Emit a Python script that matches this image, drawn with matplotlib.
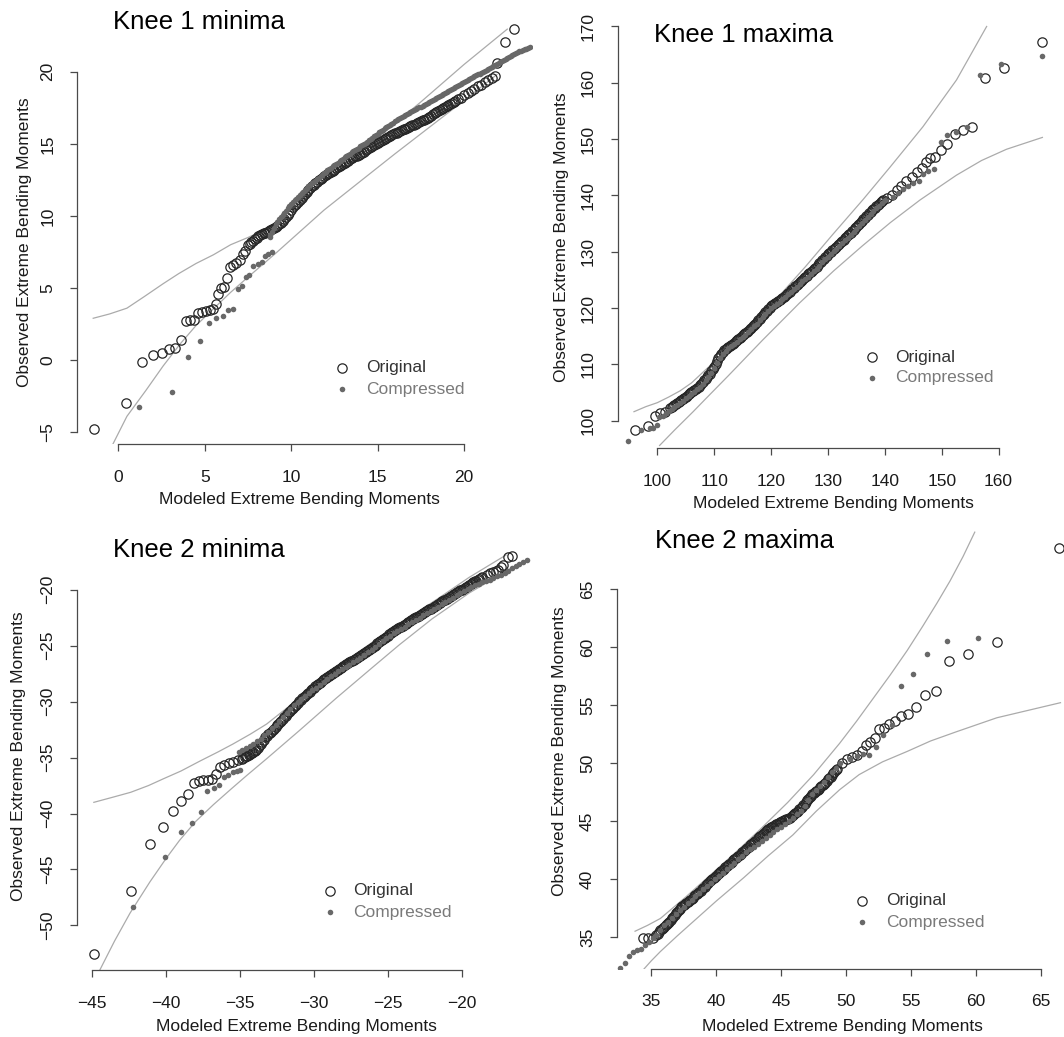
import matplotlib
matplotlib.use("Agg")
import matplotlib.pyplot as plt
from matplotlib.lines import Line2D

plt.rcParams['font.family'] = ['Liberation Sans', 'DejaVu Sans']

W, H = 1064, 1037

# ---------------- Knee 1 minima ----------------
k1min_orig_x = ([-1.42, 0.45, 1.35, 2.03, 2.52, 2.93, 3.3, 3.6, 3.92, 4.15, 4.38, 4.63, 4.85, 5.06, 5.28, 5.48, 5.63, 5.78,
                 5.97, 6.1, 6.3, 6.48, 6.64, 6.83, 7.02, 7.2, 7.32]
                + [7.5, 7.6, 7.7, 7.8, 7.9, 8.0, 8.1, 8.2, 8.3, 8.4, 8.5, 8.6, 8.7, 8.8, 8.9, 9.0, 9.1, 9.2, 9.3, 9.4,
                   9.5, 9.6, 9.7, 9.8, 9.9, 10.0, 10.1, 10.2, 10.3, 10.4, 10.5, 10.6, 10.7, 10.8, 10.9, 11.0, 11.1, 11.2,
                   11.3, 11.4, 11.5, 11.6, 11.7, 11.8, 11.9, 12.0, 12.1, 12.2, 12.3, 12.4, 12.5, 12.6, 12.7, 12.8, 12.9,
                   13.0, 13.1, 13.2, 13.3, 13.4, 13.5, 13.6, 13.7, 13.8, 13.9, 14.0, 14.1, 14.2, 14.3, 14.4, 14.5, 14.6,
                   14.7, 14.8, 14.9, 15.0, 15.1, 15.2, 15.3, 15.4, 15.5, 15.6, 15.7, 15.8, 15.9, 16.0, 16.1, 16.2, 16.3,
                   16.4, 16.5, 16.6, 16.7, 16.8, 16.9, 17.0, 17.1, 17.2, 17.3, 17.4, 17.5, 17.6, 17.7, 17.8, 17.9, 18.0,
                   18.1, 18.2, 18.3, 18.4, 18.5, 18.6, 18.7, 18.8, 18.9, 19.0, 19.1, 19.2, 19.3, 19.4, 19.5]
                + [19.65, 19.8, 20.0, 20.2, 20.4, 20.6, 20.8, 21.0, 21.2, 21.4, 21.6, 21.8, 21.9, 22.37, 22.88])
k1min_orig_y = ([-4.78, -3.0, -0.13, 0.32, 0.52, 0.75, 0.86, 1.39, 2.72, 2.76, 2.76, 3.25, 3.33, 3.43, 3.47, 3.52, 3.89, 4.56,
                 4.98, 5.09, 5.67, 6.48, 6.59, 6.71, 6.94, 7.36, 7.57]
                + [7.95, 8.05, 8.17, 8.28, 8.38, 8.5, 8.57, 8.65, 8.72, 8.8, 8.84, 8.9, 8.95, 9.0, 9.07, 9.15, 9.22, 9.3,
                   9.42, 9.53, 9.65, 9.78, 9.92, 10.05, 10.22, 10.42, 10.6, 10.73, 10.85, 10.98, 11.1, 11.24, 11.38, 11.52,
                   11.66, 11.8, 11.92, 12.04, 12.15, 12.27, 12.38, 12.48, 12.57, 12.66, 12.76, 12.85, 12.92, 12.98, 13.05,
                   13.12, 13.2, 13.29, 13.37, 13.45, 13.54, 13.62, 13.69, 13.76, 13.83, 13.91, 13.98, 14.05, 14.12, 14.18,
                   14.25, 14.32, 14.39, 14.46, 14.54, 14.61, 14.68, 14.76, 14.83, 14.9, 14.98, 15.05, 15.12, 15.2, 15.27,
                   15.35, 15.42, 15.48, 15.54, 15.6, 15.66, 15.72, 15.78, 15.83, 15.89, 15.94, 16.0, 16.05, 16.11, 16.16,
                   16.22, 16.27, 16.33, 16.38, 16.44, 16.49, 16.55, 16.62, 16.68, 16.75, 16.81, 16.88, 16.95, 17.03, 17.1,
                   17.18, 17.25, 17.33, 17.41, 17.49, 17.57, 17.65, 17.72, 17.78, 17.85, 17.92, 17.98]
                + [18.08, 18.2, 18.35, 18.52, 18.68, 18.82, 18.98, 19.1, 19.25, 19.4, 19.55, 19.7, 20.6, 22.08, 22.96])
k1min_comp_x = ([1.21, 3.09, 4.05, 4.73, 5.25, 5.65, 6.04, 6.36, 6.65, 6.91, 7.17, 7.37, 7.58, 7.81, 8.06, 8.29, 8.48, 8.68,
                 8.87, 8.75]
                + [8.8, 8.9, 9.0, 9.1, 9.2, 9.3, 9.4, 9.5, 9.6, 9.7, 9.8, 9.9, 10.0, 10.1, 10.2, 10.3, 10.4, 10.5, 10.6,
                   10.7, 10.8, 10.9, 11.0, 11.1, 11.2, 11.3, 11.4, 11.5, 11.6, 11.7, 11.8, 11.9, 12.0, 12.1, 12.2, 12.3,
                   12.4, 12.5, 12.6, 12.7, 12.8, 12.9, 13.0, 13.1, 13.2, 13.3, 13.4, 13.5, 13.6, 13.7, 13.8, 13.9, 14.0,
                   14.1, 14.2, 14.3, 14.4, 14.5, 14.6, 14.7, 14.8, 14.9, 15.0, 15.1, 15.2, 15.3, 15.4, 15.5, 15.6, 15.7,
                   15.8, 15.9, 16.0, 16.1, 16.2, 16.3, 16.4, 16.5, 16.6, 16.7, 16.8, 16.9, 17.0, 17.1, 17.2, 17.3, 17.4,
                   17.5, 17.6, 17.7, 17.8, 17.9, 18.0, 18.1, 18.2, 18.3, 18.4, 18.5, 18.6, 18.7, 18.8, 18.9, 19.0, 19.1,
                   19.2, 19.3, 19.4, 19.5, 19.6, 19.7, 19.8, 19.9, 20.0, 20.1, 20.2, 20.3, 20.4, 20.5, 20.6, 20.7, 20.8,
                   20.9, 21.0, 21.1, 21.2, 21.3, 21.4, 21.5, 21.6, 21.7, 21.8, 21.9, 22.0, 22.1, 22.2, 22.3, 22.4, 22.5,
                   22.6, 22.7, 22.8, 22.9, 23.0, 23.1, 23.2, 23.3, 23.4, 23.5, 23.6, 23.7, 23.8])
k1min_comp_y = ([-3.27, -2.19, 0.24, 1.32, 2.55, 2.92, 3.06, 3.47, 3.56, 4.91, 5.14, 5.78, 5.9, 6.53, 6.66, 6.78, 7.22, 7.36,
                 7.52, 8.55]
                + [8.65, 8.85, 9.15, 9.42, 9.6, 9.78, 9.92, 10.07, 10.22, 10.37, 10.52, 10.67, 10.82, 10.96, 11.08, 11.2,
                   11.33, 11.45, 11.57, 11.69, 11.81, 11.93, 12.05, 12.15, 12.25, 12.35, 12.45, 12.55, 12.65, 12.75, 12.85,
                   12.95, 13.05, 13.15, 13.24, 13.34, 13.44, 13.52, 13.61, 13.7, 13.78, 13.87, 13.96, 14.05, 14.13, 14.22,
                   14.31, 14.4, 14.48, 14.57, 14.65, 14.73, 14.82, 14.9, 14.98, 15.07, 15.15, 15.24, 15.34, 15.43, 15.52,
                   15.61, 15.7, 15.79, 15.89, 15.98, 16.06, 16.14, 16.22, 16.3, 16.38, 16.47, 16.55, 16.63, 16.72, 16.8,
                   16.86, 16.93, 17.0, 17.06, 17.13, 17.19, 17.25, 17.32, 17.38, 17.45, 17.52, 17.58, 17.65, 17.72, 17.78,
                   17.85, 17.92, 17.98, 18.05, 18.12, 18.19, 18.26, 18.33, 18.4, 18.47, 18.54, 18.61, 18.68, 18.75, 18.82,
                   18.89, 18.96, 19.03, 19.1, 19.17, 19.23, 19.3, 19.37, 19.43, 19.49, 19.55, 19.62, 19.68, 19.74, 19.81,
                   19.87, 19.93, 20.0, 20.07, 20.14, 20.21, 20.28, 20.35, 20.42, 20.49, 20.56, 20.63, 20.7, 20.77, 20.83,
                   20.9, 20.97, 21.03, 21.1, 21.17, 21.23, 21.3, 21.35, 21.4, 21.45, 21.5, 21.55, 21.6, 21.65, 21.7])
k1min_up_x = [-1.45, -0.5, 0.5, 1.5, 2.6, 3.5, 4.5, 5.5, 6.5, 7.5, 8.6, 9.5, 10.5, 12.5, 15.0, 17.5, 20.0, 22.5]
k1min_up_y = [2.9, 3.2, 3.6, 4.4, 5.3, 6.0, 6.7, 7.3, 8.0, 8.5, 9.1, 9.9, 10.9, 12.9, 15.4, 17.9, 20.5, 22.95]
k1min_lo_x = [-0.3, 0.5, 1.6, 2.6, 3.6, 4.5, 5.5, 6.5, 7.5, 9.1, 10.5, 11.9, 14.0, 16.0, 18.0, 20.0, 21.9]
k1min_lo_y = [-5.8, -3.9, -2.1, -0.4, 1.15, 2.4, 3.55, 4.7, 5.75, 7.4, 8.9, 10.4, 12.4, 14.3, 16.15, 18.0, 19.8]

# ---------------- Knee 1 maxima ----------------
k1max_orig_x = ([96.08, 98.42, 99.6, 100.47, 101.35, 102.2]
                + [102.5, 102.75, 103.0, 103.25, 103.5, 103.75, 104.0, 104.25, 104.5, 104.75, 105.0, 105.25, 105.5,
                   105.75, 106.0, 106.25, 106.5, 106.75, 107.0, 107.25, 107.5, 107.75, 108.0, 108.25, 108.5, 108.75,
                   109.0, 109.25, 109.5, 109.75, 110.0, 110.25, 110.5, 110.75, 111.0, 111.25, 111.5, 111.75, 112.0,
                   112.25, 112.5, 112.75, 113.0, 113.25, 113.5, 113.75, 114.0, 114.25, 114.5, 114.75, 115.0, 115.25,
                   115.5, 115.75, 116.0, 116.25, 116.5, 116.75, 117.0, 117.25, 117.5, 117.75, 118.0, 118.25, 118.5,
                   118.75, 119.0, 119.25, 119.5, 119.75, 120.0, 120.25, 120.5, 120.75, 121.0, 121.25, 121.5, 121.75,
                   122.0, 122.25, 122.5, 122.75, 123.0, 123.25, 123.5, 123.75, 124.0, 124.25, 124.5, 124.75, 125.0,
                   125.25, 125.5, 125.75, 126.0, 126.25, 126.5, 126.75, 127.0, 127.25, 127.5, 127.75, 128.0, 128.25,
                   128.5, 128.75, 129.0, 129.25, 129.5, 129.75, 130.0, 130.25, 130.5, 130.75, 131.0, 131.25, 131.5,
                   131.75, 132.0, 132.25, 132.5, 132.75, 133.0, 133.25, 133.5, 133.75, 134.0, 134.25, 134.5, 134.75,
                   135.0, 135.25, 135.5, 135.75, 136.0, 136.25, 136.5, 136.75, 137.0, 137.25, 137.5, 137.75, 138.0,
                   138.25, 138.5, 138.75, 139.0, 139.25, 139.5, 139.75]
                + [140.3, 141.2, 142.1, 142.9, 143.8, 144.7, 145.6, 146.5, 147.2, 147.9, 148.9, 149.8, 150.9, 152.3,
                   153.7, 155.4, 157.6, 161.0, 167.7])
k1max_orig_y = ([98.35, 99.11, 100.9, 101.3, 101.6, 102.2]
                + [102.42, 102.6, 102.78, 102.96, 103.14, 103.32, 103.49, 103.67, 103.86, 104.06, 104.26, 104.46,
                   104.66, 104.86, 105.06, 105.26, 105.46, 105.66, 105.86, 106.06, 106.32, 106.6, 106.87, 107.15,
                   107.44, 107.74, 108.04, 108.34, 108.75, 109.19, 109.62, 110.1, 110.6, 111.1, 111.53, 111.87, 112.2,
                   112.53, 112.75, 112.94, 113.13, 113.31, 113.5, 113.69, 113.88, 114.09, 114.3, 114.51, 114.72, 114.93,
                   115.13, 115.34, 115.55, 115.76, 116.0, 116.25, 116.5, 116.75, 117.0, 117.25, 117.5, 117.8, 118.1,
                   118.4, 118.7, 119.0, 119.3, 119.55, 119.8, 120.05, 120.3, 120.49, 120.68, 120.86, 121.05, 121.24,
                   121.43, 121.61, 121.8, 122.0, 122.2, 122.43, 122.66, 122.9, 123.13, 123.36, 123.6, 123.84, 124.08,
                   124.32, 124.55, 124.79, 125.02, 125.25, 125.5, 125.75, 125.98, 126.2, 126.42, 126.64, 126.86,
                   127.1, 127.36, 127.64, 127.92, 128.2, 128.48, 128.76, 129.04, 129.3, 129.54, 129.78, 130.01, 130.24,
                   130.47, 130.7, 130.93, 131.16, 131.4, 131.65, 131.9, 132.15, 132.4, 132.65, 132.9, 133.15, 133.4,
                   133.65, 133.9, 134.15, 134.4, 134.67, 134.94, 135.21, 135.48, 135.75, 136.03, 136.3, 136.57, 136.84,
                   137.1, 137.34, 137.57, 137.81, 138.05, 138.29, 138.53, 138.77, 139.01, 139.25]
                + [139.5, 140.1, 140.9, 141.6, 142.5, 143.3, 144.2, 144.8, 146.0, 146.6, 146.9, 148.0, 149.2, 150.9,
                   151.6, 152.1, 160.9, 162.7, 167.2])
k1max_comp_x = ([94.9, 97.1, 98.7, 99.3, 99.9, 100.35]
                + [101.0, 101.5, 102.0, 102.5, 103.0, 103.5, 104.0, 104.5, 105.0, 105.5, 106.0, 106.5, 107.0, 107.5,
                   108.0, 108.5, 109.0, 109.5, 110.0, 110.5, 111.0, 111.5, 112.0, 112.5, 113.0, 113.5, 114.0, 114.5,
                   115.0, 115.5, 116.0, 116.5, 117.0, 117.5, 118.0, 118.5, 119.0, 119.5, 120.0, 120.5, 121.0, 121.5,
                   122.0, 122.5, 123.0, 123.5, 124.0, 124.5, 125.0, 125.5, 126.0, 126.5, 127.0, 127.5, 128.0, 128.5,
                   129.0, 129.5, 130.0, 130.5, 131.0, 131.5, 132.0, 132.5, 133.0, 133.5, 134.0, 134.5, 135.0, 135.5,
                   136.0, 136.5, 137.0, 137.5, 138.0, 138.5, 139.0, 139.5, 140.0]
                + [141.5, 142.4, 143.2, 144.1, 145.0, 146.0, 146.7, 147.6, 148.7, 149.8, 151.0, 152.5, 154.4, 156.8,
                   160.4, 167.6])
k1max_comp_y = ([96.45, 98.35, 98.64, 98.7, 99.24, 100.6]
                + [100.9, 101.3, 101.8, 102.1, 102.5, 102.85, 103.2, 103.55, 103.95, 104.35, 104.75, 105.15, 105.55,
                   106.0, 106.55, 107.15, 107.75, 108.45, 109.3, 110.3, 111.2, 111.9, 112.45, 112.85, 113.2, 113.6,
                   114.0, 114.45, 114.85, 115.3, 115.75, 116.25, 116.75, 117.25, 117.8, 118.4, 119.0, 119.5, 120.0,
                   120.4, 120.75, 121.15, 121.55, 122.0, 122.45, 122.9, 123.35, 123.8, 124.25, 124.75, 125.2, 125.6,
                   126.05, 126.5, 127.0, 127.55, 128.1, 128.65, 129.15, 129.6, 130.05, 130.5, 131.0, 131.5, 132.0,
                   132.5, 133.0, 133.5, 134.0, 134.55, 135.1, 135.65, 136.2, 136.7, 137.2, 137.7, 138.2, 138.65, 139.15]
                + [139.8, 140.4, 141.1, 141.6, 142.2, 142.6, 143.8, 144.4, 144.7, 149.4, 150.7, 151.3, 152.2, 161.4,
                   163.3, 164.7])
k1max_up_x = [95.9, 98, 100, 102, 104, 106, 109.3, 112, 115.1, 119.2, 122, 126, 130.7, 136.2, 140.9, 146.7, 152.6, 157.9]
k1max_up_y = [101.6, 102.5, 103.2, 104.2, 105.3, 106.7, 109.8, 112.5, 115.5, 119.7, 122.8, 127.3, 132.9, 139.3, 145.0,
              152.2, 160.5, 170.0]
k1max_lo_x = [100.4, 103, 106.3, 109, 112.5, 118.5, 125, 131, 136, 141, 146.2, 152.6, 157, 161.4, 167.7]
k1max_lo_y = [95.6, 98.3, 101.6, 104.4, 108.0, 114.3, 120.9, 126.6, 131.0, 135.2, 139.2, 143.6, 146.2, 148.2, 150.3]

# ---------------- Knee 2 minima ----------------
k2min_orig_x = ([-44.86, -42.38, -41.10, -40.24, -39.56, -39.0, -38.54, -38.12, -37.78, -37.49, -37.19, -36.9, -36.63,
                 -36.36, -36.07, -35.75, -35.46, -35.12]
                + [-34.9, -34.8, -34.7, -34.6, -34.5, -34.4, -34.3, -34.2, -34.1, -34.0, -33.9, -33.8, -33.7, -33.6,
                   -33.5, -33.4, -33.3, -33.2, -33.1, -33.0, -32.9, -32.8, -32.7, -32.6, -32.5, -32.4, -32.3, -32.2,
                   -32.1, -32.0, -31.9, -31.8, -31.7, -31.6, -31.5, -31.4, -31.3, -31.2, -31.1, -31.0, -30.9, -30.8,
                   -30.7, -30.6, -30.5, -30.4, -30.3, -30.2, -30.1, -30.0, -29.9, -29.8, -29.7, -29.6, -29.5, -29.4,
                   -29.3, -29.2, -29.1, -29.0, -28.9, -28.8, -28.7, -28.6, -28.5, -28.4, -28.3, -28.2, -28.1, -28.0,
                   -27.9, -27.8, -27.7, -27.6, -27.5, -27.4, -27.3, -27.2, -27.1, -27.0, -26.9, -26.8, -26.7, -26.6,
                   -26.5, -26.4, -26.3, -26.2, -26.1, -26.0, -25.9, -25.8, -25.7, -25.6, -25.5, -25.4, -25.3, -25.2,
                   -25.1, -25.0, -24.9, -24.8, -24.7, -24.6, -24.5, -24.4, -24.3, -24.2, -24.1, -24.0, -23.9, -23.8,
                   -23.7, -23.6, -23.5, -23.4, -23.3, -23.2, -23.1, -23.0, -22.9, -22.8, -22.7, -22.6, -22.5, -22.4,
                   -22.3, -22.2, -22.1, -22.0, -21.9, -21.8, -21.7, -21.6, -21.5, -21.4, -21.3, -21.2, -21.1, -21.0,
                   -20.9, -20.8, -20.7, -20.6, -20.5, -20.4, -20.3, -20.2, -20.1, -20.0, -19.9, -19.8, -19.7, -19.6,
                   -19.5, -19.4, -19.3, -19.2, -19.1, -19.0, -18.9, -18.8, -18.7, -18.6]
                + [-18.31, -18.1, -17.86, -17.7, -17.52, -17.35, -17.18, -16.85, -16.62])
k2min_orig_y = ([-52.58, -46.93, -42.73, -41.23, -39.78, -38.88, -38.29, -37.30, -37.10, -37.0, -37.0, -36.92, -36.47,
                 -35.82, -35.67, -35.52, -35.37, -35.22]
                + [-35.1, -35.03, -34.97, -34.9, -34.83, -34.77, -34.7, -34.62, -34.53, -34.45, -34.3, -34.17, -34.0,
                   -33.8, -33.6, -33.4, -33.2, -33.06, -32.92, -32.79, -32.67, -32.55, -32.41, -32.27, -32.13, -31.99,
                   -31.85, -31.69, -31.53, -31.38, -31.24, -31.1, -30.96, -30.82, -30.68, -30.54, -30.4, -30.26,
                   -30.12, -29.98, -29.84, -29.7, -29.58, -29.46, -29.34, -29.22, -29.1, -28.98, -28.86, -28.74,
                   -28.62, -28.5, -28.4, -28.31, -28.21, -28.11, -28.02, -27.92, -27.82, -27.7, -27.6, -27.5, -27.42,
                   -27.34, -27.25, -27.13, -27.05, -26.97, -26.89, -26.81, -26.73, -26.65, -26.57, -26.49, -26.41,
                   -26.33, -26.25, -26.17, -26.09, -26.01, -25.93, -25.85, -25.75, -25.65, -25.55, -25.45, -25.4,
                   -25.3, -25.2, -25.1, -25.0, -24.9, -24.8, -24.7, -24.6, -24.5, -24.4, -24.3, -24.2, -24.1, -24.0,
                   -23.9, -23.8, -23.72, -23.62, -23.54, -23.45, -23.37, -23.29, -23.21, -23.13, -23.05, -22.97,
                   -22.89, -22.81, -22.73, -22.64, -22.56, -22.48, -22.4, -22.32, -22.24, -22.16, -22.08, -22.0,
                   -21.92, -21.84, -21.76, -21.68, -21.6, -21.52, -21.44, -21.36, -21.28, -21.2, -21.12, -21.04,
                   -20.96, -20.88, -20.8, -20.72, -20.62, -20.54, -20.46, -20.38, -20.3, -20.22, -20.14, -20.06,
                   -19.98, -19.9, -19.82, -19.74, -19.66, -19.58, -19.5, -19.42, -19.34, -19.26, -19.18, -19.1,
                   -19.02, -18.94, -18.86]
                + [-18.69, -18.5, -18.39, -18.3, -18.24, -18.0, -17.79, -17.1, -16.99])
k2min_comp_x = [-42.23, -40.08, -39.0, -38.23, -37.66, -37.22, -36.77, -36.4, -36.09, -35.8, -35.5, -35.23, -35.0,
                -35.1, -34.85, -34.6, -34.35, -34.1, -33.85, -33.6, -33.35, -33.1, -32.85, -32.6, -32.35, -32.1, -31.85,
                -31.6, -31.35, -31.1, -30.85, -30.6, -30.35, -30.1, -29.85, -29.6, -29.35, -29.1, -28.85, -28.6, -28.35,
                -28.1, -27.85, -27.6, -27.35, -27.1, -26.85, -26.6, -26.35, -26.1, -25.85, -25.6, -25.35, -25.1, -24.85,
                -24.6, -24.35, -24.1, -23.85, -23.6, -23.35, -23.1, -22.85, -22.6, -22.35, -22.1, -21.85, -21.6, -21.35,
                -21.1, -20.85, -20.6, -20.35, -20.1, -19.85, -19.6, -19.35, -19.1, -18.85, -18.6, -18.35, -18.1, -17.85,
                -17.6, -17.35, -17.1, -16.85, -16.6, -16.35, -16.1, -15.85, -15.6]
k2min_comp_y = [-48.33, -43.86, -41.63, -40.88, -39.84, -37.96, -37.69, -37.45, -36.71, -36.56, -36.32, -36.2, -36.11,
                -34.5, -34.3, -34.15, -34.0, -33.8, -33.55, -33.3, -33.0, -32.7, -32.4, -32.05, -31.7, -31.35, -31.0,
                -30.65, -30.3, -30.0, -29.75, -29.5, -29.25, -29.0, -28.75, -28.5, -28.25, -28.0, -27.75, -27.5, -27.3,
                -27.1, -26.9, -26.7, -26.5, -26.3, -26.1, -25.85, -25.6, -25.35, -25.1, -24.85, -24.6, -24.35, -24.1,
                -23.9, -23.7, -23.5, -23.3, -23.1, -22.9, -22.7, -22.5, -22.3, -22.1, -21.9, -21.7, -21.5, -21.3,
                -21.1, -20.9, -20.7, -20.5, -20.3, -20.1, -19.9, -19.75, -19.6, -19.45, -19.35, -19.25, -19.1, -18.95,
                -18.8, -18.65, -18.5, -18.3, -18.1, -17.9, -17.7, -17.5, -17.3]
k2min_up_x = [-44.9, -43.5, -42.4, -41.2, -40.2, -39.0, -37.7, -36.5, -35.5, -34.3, -33.2, -31.0, -28.5, -26.0, -23.7,
              -21.5, -19.5, -17.0]
k2min_up_y = [-39.0, -38.5, -38.1, -37.5, -36.9, -36.2, -35.3, -34.5, -33.8, -32.9, -32.0, -29.7, -27.0, -24.65, -22.6,
              -20.7, -18.9, -16.9]
k2min_lo_x = [-44.5, -43.5, -42.45, -41.1, -40.0, -39.1, -38.0, -36.8, -35.6, -34.55, -33.2, -31.0, -28.5, -26.0, -24.2,
              -22.0, -19.5, -16.3]
k2min_lo_y = [-54.0, -51.4, -48.9, -46.1, -44.0, -42.4, -40.7, -39.2, -37.8, -36.6, -35.1, -32.6, -29.7, -26.9, -24.9,
              -22.6, -20.3, -17.8]

# ---------------- Knee 2 maxima ----------------
k2max_orig_x = ([34.38, 34.77, 35.15]
                + [35.4, 35.5, 35.6, 35.7, 35.8, 35.9, 36.0, 36.1, 36.2, 36.3, 36.4, 36.5, 36.6, 36.7, 36.8, 36.9, 37.0,
                   37.1, 37.2, 37.3, 37.4, 37.5, 37.6, 37.7, 37.8, 37.9, 38.0, 38.1, 38.2, 38.3, 38.4, 38.5, 38.6, 38.7,
                   38.8, 38.9, 39.0, 39.1, 39.2, 39.3, 39.4, 39.5, 39.6, 39.7, 39.8, 39.9, 40.0, 40.1, 40.2, 40.3, 40.4,
                   40.5, 40.6, 40.7, 40.8, 40.9, 41.0, 41.1, 41.2, 41.3, 41.4, 41.5, 41.6, 41.7, 41.8, 41.9, 42.0, 42.1,
                   42.2, 42.3, 42.4, 42.5, 42.6, 42.7, 42.8, 42.9, 43.0, 43.1, 43.2, 43.3, 43.4, 43.5, 43.6, 43.7, 43.8,
                   43.9, 44.0, 44.1, 44.2, 44.3, 44.4, 44.5, 44.6, 44.7, 44.8, 44.9, 45.0, 45.1, 45.2, 45.3, 45.4, 45.5,
                   45.6, 45.7, 45.8, 45.9, 46.0, 46.1, 46.2, 46.3, 46.4, 46.5, 46.6, 46.7, 46.8, 46.9, 47.0, 47.1, 47.2,
                   47.3, 47.4, 47.5, 47.6, 47.7, 47.8, 47.9, 48.0, 48.1, 48.2, 48.3, 48.4, 48.5, 48.6, 48.7, 48.8, 48.9,
                   49.0, 49.1, 49.2, 49.3]
                + [49.66, 50.04, 50.43, 50.81, 51.2, 51.53, 51.84, 52.22, 52.55, 52.91, 53.32, 53.76, 54.22, 54.74,
                   55.35, 56.07, 56.89, 57.92, 59.36, 61.59, 66.39])
k2max_orig_y = ([34.89, 34.89, 34.89]
                + [35.2, 35.3, 35.43, 35.57, 35.7, 35.8, 35.9, 36.0, 36.1, 36.2, 36.3, 36.45, 36.6, 36.75, 36.9, 37.05,
                   37.2, 37.32, 37.43, 37.55, 37.65, 37.75, 37.85, 37.93, 38.02, 38.1, 38.2, 38.3, 38.4, 38.5, 38.6,
                   38.7, 38.8, 38.9, 39.0, 39.12, 39.23, 39.35, 39.47, 39.58, 39.7, 39.8, 39.9, 40.0, 40.1, 40.2, 40.3,
                   40.4, 40.5, 40.6, 40.7, 40.8, 40.9, 41.0, 41.1, 41.2, 41.3, 41.4, 41.5, 41.6, 41.7, 41.8, 41.9, 42.0,
                   42.1, 42.2, 42.3, 42.4, 42.5, 42.6, 42.7, 42.8, 42.9, 43.0, 43.1, 43.2, 43.3, 43.4, 43.5, 43.6, 43.7,
                   43.8, 43.9, 44.0, 44.1, 44.2, 44.28, 44.37, 44.45, 44.52, 44.58, 44.65, 44.72, 44.78, 44.85, 44.9,
                   44.95, 45.0, 45.05, 45.1, 45.15, 45.2, 45.25, 45.3, 45.4, 45.5, 45.6, 45.7, 45.8, 45.9, 46.0, 46.1,
                   46.23, 46.37, 46.5, 46.63, 46.77, 46.9, 47.03, 47.17, 47.3, 47.4, 47.5, 47.6, 47.7, 47.8, 47.9, 48.0,
                   48.1, 48.2, 48.32, 48.45, 48.58, 48.7, 48.83, 48.97, 49.1, 49.23, 49.37, 49.5]
                + [50.0, 50.37, 50.49, 50.66, 51.01, 51.58, 51.81, 52.16, 52.96, 53.02, 53.36, 53.6, 54.08, 54.22,
                   54.8, 55.89, 56.23, 58.82, 59.4, 60.43, 68.53])
k2max_comp_x = [32.6, 33.0, 33.3, 33.6, 33.9, 34.2, 34.5, 34.8,
                35.1, 35.4, 35.7, 36.0, 36.3, 36.6, 36.9, 37.2, 37.5, 37.8, 38.1, 38.4, 38.7, 39.0, 39.3, 39.6, 39.9,
                40.2, 40.5, 40.8, 41.1, 41.4, 41.7, 42.0, 42.3, 42.6, 42.9, 43.2, 43.5, 43.8, 44.1, 44.4, 44.7, 45.0,
                45.3, 45.6, 45.9, 46.2, 46.5, 46.8, 47.1, 47.4, 47.7, 48.0, 48.3, 48.6, 48.9, 49.2, 49.5,
                50.3, 50.8, 51.3, 51.78, 52.27, 52.81, 53.5, 54.2, 55.12, 56.25, 57.79, 60.17]
k2max_comp_y = [32.3, 32.75, 33.4, 33.7, 33.85, 34.0, 34.3, 34.6,
                34.9, 35.2, 35.6, 36.0, 36.3, 36.6, 36.95, 37.3, 37.6, 37.9, 38.2, 38.5, 38.8, 39.1, 39.4, 39.7, 40.0,
                40.3, 40.55, 40.85, 41.1, 41.4, 41.7, 42.0, 42.3, 42.55, 42.8, 43.05, 43.3, 43.55, 43.8, 44.05, 44.3,
                44.5, 44.75, 45.0, 45.3, 45.6, 45.9, 46.3, 46.8, 47.3, 47.7, 48.0, 48.4, 48.8, 49.2, 49.6, 50.0,
                50.35, 50.6, 50.75, 50.72, 51.35, 52.44, 53.25, 56.66, 57.7, 59.4, 60.49, 60.78]
k2max_up_x = [33.75, 34.7, 35.7, 37.6, 39.5, 41.5, 43.4, 45.5, 47.5, 49.5, 50.8, 52.1, 53.4, 54.7, 55.9, 57.0, 58.0, 59.0,
              59.9]
k2max_up_y = [35.5, 36.0, 36.6, 38.4, 40.3, 42.3, 44.3, 46.6, 49.0, 51.7, 53.6, 55.6, 57.6, 59.7, 61.8, 63.8, 65.7, 67.8,
              69.9]
k2max_lo_x = [34.4, 35.0, 35.7, 37.0, 38.2, 40.0, 42.1, 44.0, 45.9, 47.7, 49.5, 51.0, 52.8, 54.7, 56.5, 58.5, 61.6, 66.5]
k2max_lo_y = [32.2, 32.95, 33.75, 35.1, 36.3, 38.1, 40.1, 42.0, 43.8, 45.85, 47.7, 49.0, 50.1, 51.0, 51.9, 52.7, 53.9,
              55.2]

titles = ["Knee 1 minima", "Knee 1 maxima", "Knee 2 minima", "Knee 2 maxima"]
xlab = "Modeled Extreme Bending Moments"
ylab = "Observed Extreme Bending Moments"

# layout in pixels: axes box (left, top, right, bottom), limits, ticks, text spots
panels = [
    dict(data=(k1min_orig_x, k1min_orig_y, k1min_comp_x, k1min_comp_y, k1min_up_x, k1min_up_y, k1min_lo_x, k1min_lo_y),
         box=(77.3, 0, 532, 444.3), xlim=(-2.37, 23.93), ylim=(-5.84, 24.97),
         xt=[0, 5, 10, 15, 20], yt=[-5, 0, 5, 10, 15, 20],
         title=(113, 21.7), xl=(299, 500), yl=(25, 241.7), leg=(341.7, 365.7, 367.7, 389.3)),
    dict(data=(k1max_orig_x, k1max_orig_y, k1max_comp_x, k1max_comp_y, k1max_up_x, k1max_up_y, k1max_lo_x, k1max_lo_y),
         box=(618, 0, 1064, 448.3), xlim=(93.09, 171.5), ylim=(95.1, 174.7),
         xt=[100, 110, 120, 130, 140, 150, 160], yt=[100, 110, 120, 130, 140, 150, 160, 170],
         title=(653.7, 35), xl=(833.7, 503.3), yl=(561.3, 236.7), leg=(872, 895.3, 357.3, 377.7)),
    dict(data=(k2min_orig_x, k2min_orig_y, k2min_comp_x, k2min_comp_y, k2min_up_x, k2min_up_y, k2min_lo_x, k2min_lo_y),
         box=(76.7, 518, 532, 970.3), xlim=(-46.06, -15.24), ylim=(-54.01, -13.59),
         xt=[-45, -40, -35, -30, -25, -20], yt=[-50, -45, -40, -35, -30, -25, -20],
         title=(113, 550), xl=(296.7, 1026.3), yl=(18.3, 756.3), leg=(330, 353.3, 890.7, 912.3)),
    dict(data=(k2max_orig_x, k2max_orig_y, k2max_comp_x, k2max_comp_y, k2max_up_x, k2max_up_y, k2max_lo_x, k2max_lo_y),
         box=(617, 518, 1064, 968.7), xlim=(32.36, 66.77), ylim=(32.27, 71.12),
         xt=[35, 40, 45, 50, 55, 60, 65], yt=[35, 40, 45, 50, 55, 60, 65],
         title=(654.7, 540.7), xl=(842, 1026.3), yl=(559.3, 751.3), leg=(862, 886.3, 900.7, 922.3)),
]

CIRC = '#262626'
DOT = '#686868'
ENV = '#ababab'
AXC = '#4a4a4a'
MS_C = 6.7
MS_D = 4.0


def fx(px):
    return px / W


def fy(py):
    return 1 - py / H


fig = plt.figure(figsize=(W / 100, H / 100), dpi=100)

for p, ttl in zip(panels, titles):
    ox, oy, cx, cy, ux, uy, lx, ly = p['data']
    l, t, r, b = p['box']
    ax = fig.add_axes([fx(l), fy(b), (r - l) / W, (b - t) / H])
    ax.plot(ux, uy, color=ENV, lw=0.9)
    ax.plot(lx, ly, color=ENV, lw=0.9)
    ax.plot(ox, oy, 'o', mfc='none', mec=CIRC, mew=0.9, ms=MS_C)
    ax.plot(cx, cy, 'o', color=DOT, mec='none', ms=MS_D)
    ax.set_xlim(*p['xlim'])
    ax.set_ylim(*p['ylim'])
    ax.set_xticks(p['xt'])
    ax.set_yticks(p['yt'])
    for s in ['top', 'right']:
        ax.spines[s].set_visible(False)
    ax.spines['left'].set_bounds(p['yt'][0], p['yt'][-1])
    ax.spines['bottom'].set_bounds(p['xt'][0], p['xt'][-1])
    for s in ['left', 'bottom']:
        ax.spines[s].set_color(AXC)
        ax.spines[s].set_linewidth(0.9)
    ax.tick_params(direction='out', length=5.3, width=0.9, color=AXC, labelsize=12.5,
                   labelcolor='#1a1a1a')
    ax.tick_params(axis='x', pad=13)
    ax.tick_params(axis='y', pad=10.5)
    for lab in ax.get_yticklabels():
        lab.set_rotation(90)
        lab.set_va('center')
    ax.patch.set_alpha(0)

    fig.text(fx(p['title'][0]), fy(p['title'][1]), ttl, fontsize=18.5, ha='left', va='center')
    fig.text(fx(p['xl'][0]), fy(p['xl'][1]), xlab, fontsize=12.5, ha='center', va='center', color='#1a1a1a')
    fig.text(fx(p['yl'][0]), fy(p['yl'][1]), ylab, fontsize=12.5, ha='center', va='center',
             rotation=90, color='#1a1a1a')

    mx, tx, r1, r2 = p['leg']
    fig.add_artist(Line2D([fx(mx)], [fy(r1)], marker='o', mfc='none', mec=CIRC, mew=0.9, ms=MS_C,
                          transform=fig.transFigure))
    fig.add_artist(Line2D([fx(mx)], [fy(r2)], marker='o', color=DOT, mec='none', ms=MS_D,
                          transform=fig.transFigure))
    fig.text(fx(tx), fy(r1), "Original", fontsize=12.5, ha='left', va='center', color='#333333')
    fig.text(fx(tx), fy(r2), "Compressed", fontsize=12.5, ha='left', va='center', color='#7a7a7a')

fig.savefig('out.png', dpi=100)
